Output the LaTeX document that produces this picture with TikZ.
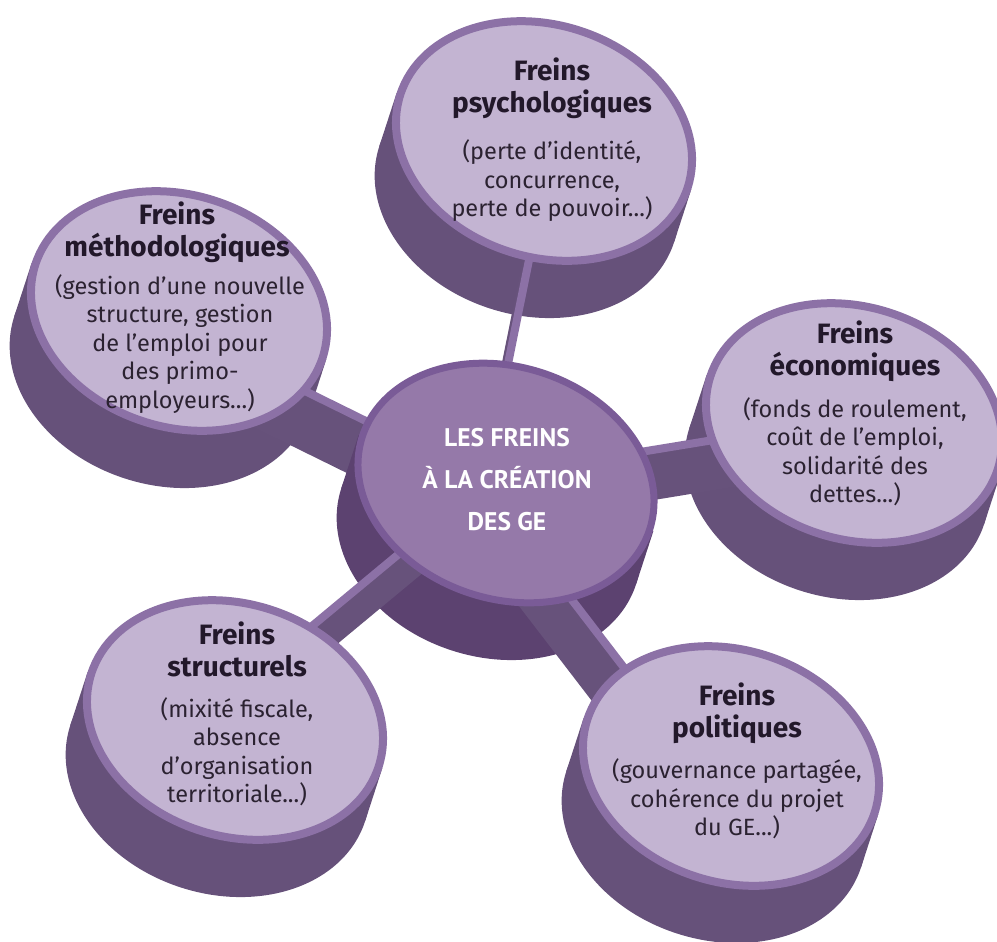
\documentclass[tikz,border=0pt]{standalone}
\usepackage{fontspec}
\setmainfont{Fira Sans}
\newfontfamily\hubfont{PT Sans}
\usetikzlibrary{calc,positioning}

\definecolor{diskFace}{HTML}{C3B4D2}
\definecolor{diskRim}{HTML}{8C71A6}
\definecolor{diskSide}{HTML}{66517A}
\definecolor{hubFace}{HTML}{9579A9}
\definecolor{hubRim}{HTML}{7A5B97}
\definecolor{hubSide}{HTML}{5C4270}
\definecolor{barSide}{HTML}{67527B}
\definecolor{inkTitle}{HTML}{22182A}
\definecolor{inkBody}{HTML}{2B2231}

\begin{document}
\begin{tikzpicture}[x=1pt,y=1pt,
    disk side/.style={fill=diskSide},
    disk top/.style={fill=diskFace, draw=diskRim, line width=8pt},
    hub side/.style={fill=hubSide},
    hub top/.style={fill=hubFace, draw=hubRim, line width=7pt},
    bar side/.style={fill=barSide},
    bar top/.style={draw=diskRim, line width=8pt},
    title/.style={align=center, inner sep=0pt, text=inkTitle,
      font=\fontsize{28}{32}\selectfont\bfseries},
    body/.style={align=center, inner sep=0pt, text=inkBody,
      font=\fontsize{23.5}{28.5}\selectfont},
    hub text/.style={align=center, inner sep=0pt, text=white,
      font=\hubfont\fontsize{25.5}{42}\selectfont\bfseries},
  ]
    \useasboundingbox (0,0) rectangle (997,-942);

    % disk centres
    \coordinate (ctr) at (506,-483);
    \coordinate (meth) at (179,-311);
    \coordinate (psy) at (544,-141);
    \coordinate (eco) at (854,-423);
    \coordinate (struc) at (235,-720);
    \coordinate (pol) at (731,-766);

    % cylinder sides of the outer disks
    \foreach \d in {meth,psy,eco,struc,pol}{
      \begin{scope}[shift={(\d)},rotate=-18]
        \fill[disk side] (-155,0) rectangle (155,-56);
        \fill[disk side] (0,-56) ellipse [x radius=155, y radius=120];
      \end{scope}
    }

    % bars behind the hub
    \foreach \d/\ax/\ay/\bx/\by in {meth/0/-7/0/-18, psy/-22/0/9/0, eco/0/9/0/6}{
      \coordinate (a) at ($(ctr)+(\ax,\ay)$);
      \coordinate (b) at ($(\d)+(\bx,\by)$);
      \fill[bar side] (a) -- (b) -- ($(b)+(-17,-53)$) -- ($(a)+(-17,-53)$) -- cycle;
      \draw[bar top] (a) -- (b);
    }

    % hub side
    \begin{scope}[shift={(ctr)},rotate=-18]
      \fill[hub side] (-155,0) rectangle (155,-56);
      \fill[hub side] (0,-56) ellipse [x radius=155, y radius=120];
    \end{scope}

    % bars in front of the hub
    \foreach \d/\ax/\ay/\bx/\by in {struc/0/18/0/30, pol/0/-31/0/-41}{
      \coordinate (a) at ($(ctr)+(\ax,\ay)$);
      \coordinate (b) at ($(\d)+(\bx,\by)$);
      \fill[bar side] (a) -- (b) -- ($(b)+(-17,-53)$) -- ($(a)+(-17,-53)$) -- cycle;
      \draw[bar top] (a) -- (b);
    }

    % top faces
    \foreach \d in {meth,psy,eco,struc,pol}{
      \draw[disk top, rotate around={-18:(\d)}] (\d) ellipse [x radius=151, y radius=116];
    }
    \draw[hub top, rotate around={-18:(ctr)}] (ctr) ellipse [x radius=151, y radius=116];

    % texts
    \node[hub text] (hubT) at (507,-480) {LES FREINS\\À LA CRÉATION\\DES GE};

    \node[title] (psyT) at (552,-88) {Freins\\psychologiques};
    \node[body] (psyB) at (552,-181) {(perte d’identité,\\concurrence,\\perte de pouvoir...)};

    \node[title] (methT) at (177,-232) {Freins\\méthodologiques};
    \node[body] (methB) at (180,-344) {(gestion d’une nouvelle\\structure, gestion\\de l’emploi pour\\des primo-\\employeurs...)};

    \node[title] (ecoT) at (855,-351) {Freins\\économiques};
    \node[body] (ecoB) at (855,-452) {(fonds de roulement,\\coût de l’emploi,\\solidarité des\\dettes...)};

    \node[title] (strucT) at (237,-649) {Freins\\structurels};
    \node[body] (strucB) at (237,-752) {(mixité fiscale,\\absence\\d’organisation\\territoriale...)};

    \node[title] (polT) at (737,-713) {Freins\\politiques};
    \node[body] (polB) at (737,-799) {(gouvernance partagée,\\cohérence du projet\\du GE...)};
\end{tikzpicture}
\end{document}
